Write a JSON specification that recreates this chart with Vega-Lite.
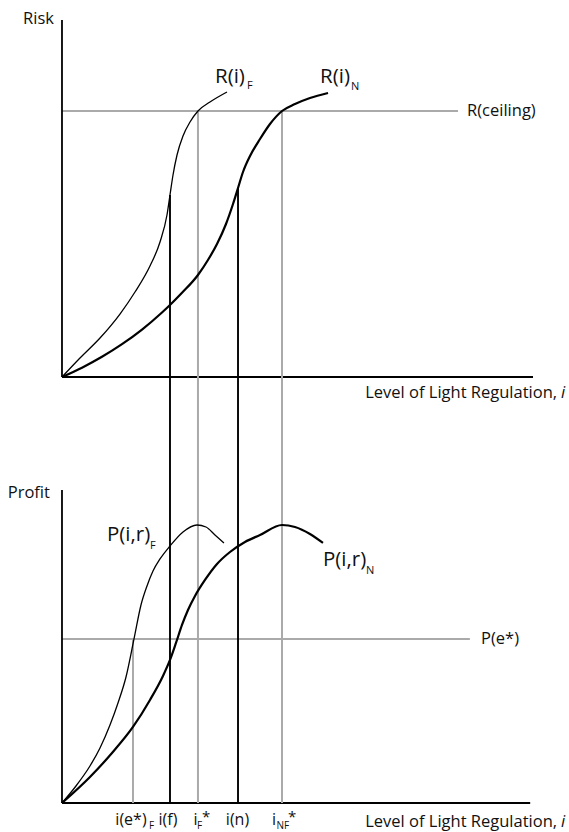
{
  "$schema": "https://vega.github.io/schema/vega-lite/v6.json",
  "padding": 0,
  "spacing": 0,
  "bounds": "flush",
  "background": "white",
  "config": {"view": {"stroke": null}, "text": {"font": "Open Sans", "color": "#111111"}},
  "datasets": {
    "riskF": [
      {"i": 0, "risk": 0}, {"i": 3.82, "risk": 7.14}, {"i": 8.07, "risk": 14.66}, {"i": 12.31, "risk": 23.68},
      {"i": 15.5, "risk": 31.95}, {"i": 18.68, "risk": 41.73}, {"i": 20.81, "risk": 50.75}, {"i": 22.29, "risk": 60.9},
      {"i": 22.93, "risk": 68.42}, {"i": 23.57, "risk": 75.94}, {"i": 24.42, "risk": 83.46}, {"i": 25.69, "risk": 90.6},
      {"i": 27.18, "risk": 95.86}, {"i": 28.87, "risk": 100}, {"i": 31.42, "risk": 103.38}, {"i": 35.03, "risk": 107.14}
    ],
    "riskN": [
      {"i": 0, "risk": 0}, {"i": 4.25, "risk": 3.5}, {"i": 8.49, "risk": 7.59}, {"i": 12.74, "risk": 12.33},
      {"i": 16.99, "risk": 17.82}, {"i": 21.23, "risk": 24.25}, {"i": 22.93, "risk": 27.07}, {"i": 25.48, "risk": 31.65},
      {"i": 28.87, "risk": 38.35}, {"i": 30.99, "risk": 43.98}, {"i": 32.91, "risk": 50.0}, {"i": 34.82, "risk": 57.52},
      {"i": 36.31, "risk": 65.04}, {"i": 37.37, "risk": 71.05}, {"i": 38.43, "risk": 77.07}, {"i": 39.92, "risk": 83.08},
      {"i": 42.04, "risk": 89.47}, {"i": 44.16, "risk": 95.11}, {"i": 46.71, "risk": 100}, {"i": 49.47, "risk": 102.63},
      {"i": 52.65, "risk": 104.89}, {"i": 56.48, "risk": 106.77}
    ],
    "profitF": [
      {"i": 0, "profit": 0}, {"i": 2.97, "profit": 5.43}, {"i": 5.94, "profit": 11.82}, {"i": 8.07, "profit": 17.57},
      {"i": 10.19, "profit": 24.92}, {"i": 11.89, "profit": 31.95}, {"i": 13.59, "profit": 40.26}, {"i": 15.29, "profit": 52.4},
      {"i": 16.77, "profit": 63.26}, {"i": 18.05, "profit": 69.33}, {"i": 19.32, "profit": 74.12}, {"i": 20.81, "profit": 77.96},
      {"i": 22.93, "profit": 82.11}, {"i": 25.69, "profit": 86.58}, {"i": 28.66, "profit": 88.82}, {"i": 30.57, "profit": 88.18},
      {"i": 32.48, "profit": 85.62}, {"i": 34.39, "profit": 83.07}
    ],
    "profitN": [
      {"i": 0, "profit": 0}, {"i": 5.94, "profit": 8.31}, {"i": 10.62, "profit": 15.97}, {"i": 15.07, "profit": 24.28},
      {"i": 18.68, "profit": 32.91}, {"i": 21.44, "profit": 40.58}, {"i": 22.93, "profit": 45.69}, {"i": 24.2, "profit": 51.12},
      {"i": 25.48, "profit": 56.87}, {"i": 26.75, "profit": 61.66}, {"i": 28.24, "profit": 66.13}, {"i": 30.36, "profit": 71.25},
      {"i": 32.91, "profit": 76.36}, {"i": 35.67, "profit": 80.19}, {"i": 38.85, "profit": 83.39}, {"i": 42.04, "profit": 85.62},
      {"i": 46.71, "profit": 88.82}, {"i": 49.47, "profit": 88.18}, {"i": 52.65, "profit": 85.94}, {"i": 55.41, "profit": 83.07}
    ],
    "vlinesRisk": [
      {"name": "i(f)", "i": 22.93, "top": 68.42, "bottom": -23.68, "kind": "chosen"},
      {"name": "i_F*", "i": 28.87, "top": 100, "bottom": -23.68, "kind": "optimal"},
      {"name": "i(n)", "i": 37.37, "top": 71.05, "bottom": -23.68, "kind": "chosen"},
      {"name": "i_NF*", "i": 46.71, "top": 100, "bottom": -23.68, "kind": "optimal"}
    ],
    "vlinesProfit": [
      {"name": "i(e*)_F", "i": 15.07, "top": 52.4, "bottom": 0, "kind": "optimal"},
      {"name": "i(f)", "i": 22.93, "top": 115.97, "bottom": 0, "kind": "chosen"},
      {"name": "i_F*", "i": 28.87, "top": 115.97, "bottom": 0, "kind": "optimal"},
      {"name": "i(n)", "i": 37.37, "top": 115.97, "bottom": 0, "kind": "chosen"},
      {"name": "i_NF*", "i": 46.71, "top": 115.97, "bottom": 0, "kind": "optimal"}
    ],
    "hlinesRisk": [
      {"name": "R(ceiling)", "from": 0, "to": 84.08, "level": 100, "kind": "optimal"},
      {"name": "x axis", "from": 0, "to": 100, "level": 0, "kind": "axis"}
    ],
    "hlinesProfit": [
      {"name": "P(e*)", "from": 0, "to": 86.6, "level": 52.4, "kind": "optimal"},
      {"name": "x axis", "from": 0, "to": 99.4, "level": 0, "kind": "axis"}
    ],
    "yaxisRisk": [{"at": 0, "from": 0, "to": 134.2}],
    "yaxisProfit": [{"at": 0, "from": 0, "to": 100}]
  },
  "vconcat": [
    {
      "width": 569,
      "height": 440,
      "layer": [
        {
          "data": {"name": "hlinesRisk"},
          "mark": {"type": "rule"},
          "encoding": {
            "x": {"field": "from", "type": "quantitative", "scale": {"domain": [-13.16, 107.64], "nice": false, "zero": false}, "axis": null},
            "x2": {"field": "to"},
            "y": {"field": "level", "type": "quantitative", "scale": {"domain": [-23.68, 141.73], "nice": false, "zero": false}, "axis": null},
            "color": {"field": "kind", "type": "nominal", "scale": {"domain": ["axis", "chosen", "optimal"], "range": ["#000000", "#000000", "#aaaaaa"]}, "legend": null},
            "strokeWidth": {"field": "kind", "type": "ordinal", "scale": {"domain": ["axis", "chosen", "optimal"], "range": [1.8, 2, 1.3]}, "legend": null}
          }
        },
        {
          "data": {"name": "vlinesRisk"},
          "mark": {"type": "rule"},
          "encoding": {
            "x": {"field": "i", "type": "quantitative", "axis": null},
            "y": {"field": "top", "type": "quantitative", "axis": null},
            "y2": {"field": "bottom"},
            "color": {"field": "kind", "type": "nominal", "legend": null},
            "strokeWidth": {"field": "kind", "type": "ordinal", "legend": null}
          }
        },
        {
          "data": {"name": "yaxisRisk"},
          "mark": {"type": "rule", "color": "#000000", "strokeWidth": 1.8},
          "encoding": {
            "x": {"field": "at", "type": "quantitative", "axis": null},
            "y": {"field": "from", "type": "quantitative", "axis": null},
            "y2": {"field": "to"}
          }
        },
        {
          "data": {"name": "riskF"},
          "mark": {"type": "line", "color": "#000000", "strokeWidth": 1.3, "interpolate": "monotone"},
          "encoding": {
            "x": {"field": "i", "type": "quantitative", "axis": null},
            "y": {"field": "risk", "type": "quantitative", "axis": null}
          }
        },
        {
          "data": {"name": "riskN"},
          "mark": {"type": "line", "color": "#000000", "strokeWidth": 2.2, "interpolate": "monotone"},
          "encoding": {
            "x": {"field": "i", "type": "quantitative", "axis": null},
            "y": {"field": "risk", "type": "quantitative", "axis": null}
          }
        },
        {
          "data": {"values": [{"label": "Risk", "i": -1.7, "v": 134.6}, {"label": "Level of Light Regulation,", "i": 105.1, "v": -6.0}]},
          "mark": {"type": "text", "align": "right", "baseline": "middle", "fontSize": 16.5},
          "encoding": {
            "x": {"field": "i", "type": "quantitative", "axis": null},
            "y": {"field": "v", "type": "quantitative", "axis": null},
            "text": {"field": "label"}
          }
        },
        {
          "data": {"values": [{"label": "R(ceiling)", "i": 86.0, "v": 100}]},
          "mark": {"type": "text", "align": "left", "baseline": "middle", "fontSize": 16.5},
          "encoding": {
            "x": {"field": "i", "type": "quantitative", "axis": null},
            "y": {"field": "v", "type": "quantitative", "axis": null},
            "text": {"field": "label"}
          }
        },
        {
          "data": {"values": [{"label": "i", "i": 105.94, "v": -6.0}]},
          "mark": {"type": "text", "align": "left", "baseline": "middle", "fontSize": 16.5, "fontStyle": "italic"},
          "encoding": {
            "x": {"field": "i", "type": "quantitative", "axis": null},
            "y": {"field": "v", "type": "quantitative", "axis": null},
            "text": {"field": "label"}
          }
        },
        {
          "data": {"values": [{"label": "R(i)", "i": 32.48, "v": 112.78}, {"label": "R(i)", "i": 54.78, "v": 112.78}]},
          "mark": {"type": "text", "align": "left", "baseline": "middle", "fontSize": 20.5},
          "encoding": {
            "x": {"field": "i", "type": "quantitative", "axis": null},
            "y": {"field": "v", "type": "quantitative", "axis": null},
            "text": {"field": "label"}
          }
        },
        {
          "data": {"values": [{"label": "F", "i": 39.28, "v": 109.4}, {"label": "N", "i": 61.36, "v": 109.02}]},
          "mark": {"type": "text", "align": "left", "baseline": "middle", "fontSize": 11},
          "encoding": {
            "x": {"field": "i", "type": "quantitative", "axis": null},
            "y": {"field": "v", "type": "quantitative", "axis": null},
            "text": {"field": "label"}
          }
        }
      ]
    },
    {
      "width": 569,
      "height": 392,
      "layer": [
        {
          "data": {"name": "hlinesProfit"},
          "mark": {"type": "rule"},
          "encoding": {
            "x": {"field": "from", "type": "quantitative", "scale": {"domain": [-13.16, 107.64], "nice": false, "zero": false}, "axis": null},
            "x2": {"field": "to"},
            "y": {"field": "level", "type": "quantitative", "scale": {"domain": [-9.27, 115.97], "nice": false, "zero": false}, "axis": null},
            "color": {"field": "kind", "type": "nominal", "scale": {"domain": ["axis", "chosen", "optimal"], "range": ["#000000", "#000000", "#aaaaaa"]}, "legend": null},
            "strokeWidth": {"field": "kind", "type": "ordinal", "scale": {"domain": ["axis", "chosen", "optimal"], "range": [1.8, 2, 1.3]}, "legend": null}
          }
        },
        {
          "data": {"name": "vlinesProfit"},
          "mark": {"type": "rule"},
          "encoding": {
            "x": {"field": "i", "type": "quantitative", "axis": null},
            "y": {"field": "top", "type": "quantitative", "axis": null},
            "y2": {"field": "bottom"},
            "color": {"field": "kind", "type": "nominal", "legend": null},
            "strokeWidth": {"field": "kind", "type": "ordinal", "legend": null}
          }
        },
        {
          "data": {"name": "yaxisProfit"},
          "mark": {"type": "rule", "color": "#000000", "strokeWidth": 1.8},
          "encoding": {
            "x": {"field": "at", "type": "quantitative", "axis": null},
            "y": {"field": "from", "type": "quantitative", "axis": null},
            "y2": {"field": "to"}
          }
        },
        {
          "data": {"name": "profitF"},
          "mark": {"type": "line", "color": "#000000", "strokeWidth": 1.3, "interpolate": "monotone"},
          "encoding": {
            "x": {"field": "i", "type": "quantitative", "axis": null},
            "y": {"field": "profit", "type": "quantitative", "axis": null}
          }
        },
        {
          "data": {"name": "profitN"},
          "mark": {"type": "line", "color": "#000000", "strokeWidth": 2.2, "interpolate": "monotone"},
          "encoding": {
            "x": {"field": "i", "type": "quantitative", "axis": null},
            "y": {"field": "profit", "type": "quantitative", "axis": null}
          }
        },
        {
          "data": {"values": [{"label": "Profit", "i": -2.55, "v": 99.04}, {"label": "Level of Light Regulation,", "i": 105.1, "v": -6.07}]},
          "mark": {"type": "text", "align": "right", "baseline": "middle", "fontSize": 16.5},
          "encoding": {
            "x": {"field": "i", "type": "quantitative", "axis": null},
            "y": {"field": "v", "type": "quantitative", "axis": null},
            "text": {"field": "label"}
          }
        },
        {
          "data": {"values": [{"label": "P(e*)", "i": 88.96, "v": 52.4}]},
          "mark": {"type": "text", "align": "left", "baseline": "middle", "fontSize": 16.5},
          "encoding": {
            "x": {"field": "i", "type": "quantitative", "axis": null},
            "y": {"field": "v", "type": "quantitative", "axis": null},
            "text": {"field": "label"}
          }
        },
        {
          "data": {"values": [{"label": "i", "i": 105.94, "v": -6.07}]},
          "mark": {"type": "text", "align": "left", "baseline": "middle", "fontSize": 16.5, "fontStyle": "italic"},
          "encoding": {
            "x": {"field": "i", "type": "quantitative", "axis": null},
            "y": {"field": "v", "type": "quantitative", "axis": null},
            "text": {"field": "label"}
          }
        },
        {
          "data": {"values": [{"label": "P(i,r)", "i": 9.55, "v": 85.62}, {"label": "P(i,r)", "i": 55.41, "v": 77.64}]},
          "mark": {"type": "text", "align": "left", "baseline": "middle", "fontSize": 20.5},
          "encoding": {
            "x": {"field": "i", "type": "quantitative", "axis": null},
            "y": {"field": "v", "type": "quantitative", "axis": null},
            "text": {"field": "label"}
          }
        },
        {
          "data": {"values": [{"label": "F", "i": 18.68, "v": 82.1}, {"label": "N", "i": 64.54, "v": 74.12}]},
          "mark": {"type": "text", "align": "left", "baseline": "middle", "fontSize": 11},
          "encoding": {
            "x": {"field": "i", "type": "quantitative", "axis": null},
            "y": {"field": "v", "type": "quantitative", "axis": null},
            "text": {"field": "label"}
          }
        },
        {
          "data": {"values": [
            {"label": "i(e*)", "i": 14.65, "v": -5.43}, {"label": "i(f)", "i": 22.5, "v": -5.43},
            {"label": "i", "i": 28.34, "v": -5.43}, {"label": "i(n)", "i": 37.26, "v": -5.43}, {"label": "i", "i": 45.0, "v": -5.43}
          ]},
          "mark": {"type": "text", "align": "center", "baseline": "middle", "fontSize": 16},
          "encoding": {
            "x": {"field": "i", "type": "quantitative", "axis": null},
            "y": {"field": "v", "type": "quantitative", "axis": null},
            "text": {"field": "label"}
          }
        },
        {
          "data": {"values": [
            {"label": "F", "i": 18.47, "v": -7.3}, {"label": "F", "i": 28.66, "v": -7.3}, {"label": "NF", "i": 45.54, "v": -7.3}
          ]},
          "mark": {"type": "text", "align": "left", "baseline": "middle", "fontSize": 10},
          "encoding": {
            "x": {"field": "i", "type": "quantitative", "axis": null},
            "y": {"field": "v", "type": "quantitative", "axis": null},
            "text": {"field": "label"}
          }
        },
        {
          "data": {"values": [{"label": "*", "i": 29.72, "v": -4.5}, {"label": "*", "i": 47.98, "v": -4.5}]},
          "mark": {"type": "text", "align": "left", "baseline": "middle", "fontSize": 15},
          "encoding": {
            "x": {"field": "i", "type": "quantitative", "axis": null},
            "y": {"field": "v", "type": "quantitative", "axis": null},
            "text": {"field": "label"}
          }
        }
      ]
    }
  ]
}
